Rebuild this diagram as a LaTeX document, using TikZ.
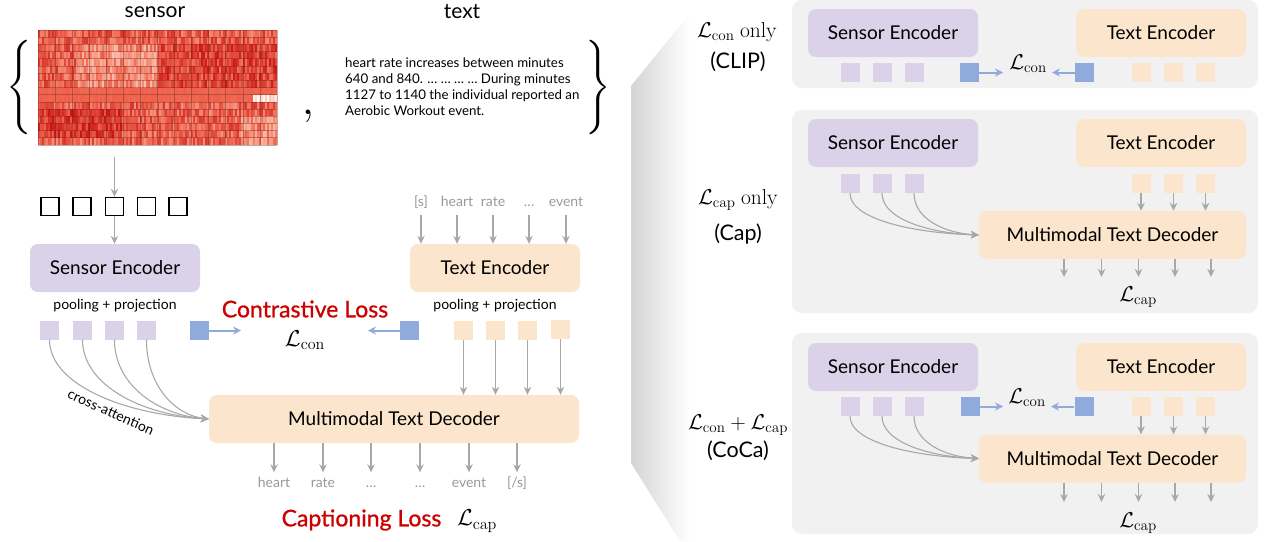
\documentclass[tikz,border=0pt]{standalone}
\usepackage{fix-cm}
\usepackage{amsmath}
\usepackage[no-math]{fontspec}
\setmainfont{Lato}
\newfontfamily\mediumfont{Lato}[FakeBold=0.9]
\usetikzlibrary{arrows.meta}

\definecolor{lav}{HTML}{D9D2E9}
\definecolor{peach}{HTML}{FCE5CD}
\definecolor{pblue}{HTML}{8FAADC}
\definecolor{panel}{HTML}{F1F1F1}
\definecolor{lossred}{HTML}{CC0000}
\definecolor{arrgray}{HTML}{A8A8A8}
\definecolor{tokgray}{HTML}{999999}
\definecolor{hmdark}{RGB}{200,22,22}
\definecolor{hmmid}{RGB}{240,100,78}
\definecolor{hmlight}{RGB}{252,192,172}
\definecolor{hmline}{RGB}{110,40,30}

\tikzset{
  encbox/.style={rounded corners=8pt, minimum width=170pt, minimum height=48pt,
    inner sep=0pt, font=\fontsize{19}{22}\selectfont},
  sencbox/.style={encbox, fill=lav},
  tencbox/.style={encbox, fill=peach},
  decbox/.style={rounded corners=8pt, minimum height=48pt, inner sep=0pt,
    fill=peach, font=\fontsize{19}{22}\selectfont},
  lavsq/.style={fill=lav, minimum size=19pt, inner sep=0pt},
  peachsq/.style={fill=peach, minimum size=19pt, inner sep=0pt},
  bluesq/.style={fill=pblue, minimum size=19pt, inner sep=0pt},
  emptysq/.style={draw=black, line width=1.4pt, minimum size=18pt, inner sep=0pt},
  panelbox/.style={fill=panel, rounded corners=10pt, minimum width=466pt, inner sep=0pt},
  garrow/.style={draw=arrgray, line width=1.3pt, -{Stealth[length=8pt,width=7.5pt]}},
  xattn/.style={draw=arrgray, line width=1.1pt, -{Stealth[length=8pt,width=7.5pt]}},
  barrow/.style={draw=pblue, line width=2pt, -{Stealth[length=8pt,width=8pt]}},
  tok/.style={inner sep=0pt, text height=10pt, text depth=3pt, text=tokgray,
    font=\fontsize{14}{16}\selectfont},
  smalltxt/.style={inner sep=0pt, font=\fontsize{14}{16}\selectfont},
  header/.style={inner sep=0pt, font=\fontsize{21}{24}\selectfont},
  mathlbl/.style={inner sep=0pt, font=\fontsize{23}{27}\selectfont},
  losstxt/.style={inner sep=0pt, text=lossred, font=\fontsize{23}{27}\selectfont\mediumfont},
  sidetxt/.style={inner sep=0pt, font=\fontsize{21.5}{25}\selectfont},
  hmgrid/.style={draw=hmline, draw opacity=0.4, line width=0.7pt}
}

\begin{document}
\begin{tikzpicture}[x=1pt, y=-1pt]
\useasboundingbox (0,0) rectangle (1265,541);

% ---------------- left: input pair ----------------
\node[header] (hsensor) at (155,12) {sensor};
\node[header] (htext) at (462,12) {text};

% heat map of the sensor channels (light -> mid -> dark red scale)
\pgfmathsetseed{7}
\foreach \rw in {0,...,15}{
  \foreach \k in {0,...,119}{
    \pgfmathsetmacro\xx{38+\k*1.99167}
    \pgfmathsetmacro\base{(\rw<2) ? 55 : ((\rw<8) ? ((\xx<75) ? 55 : ((\xx<157) ? 28 : 70)) : ((\rw<10) ? 50 : ((\rw>=11 && \rw<=14 && \xx<120) ? 78 : ((\rw>=12 && \xx>240) ? 28 : 52))))}
    \pgfmathsetmacro\amp{(\rw==8 || \rw==9) ? 3 : 28}
    \pgfmathsetmacro\tv{max(0,min(100,\base+(rnd-0.5)*2*\amp))}
    \pgfmathtruncatemacro\isw{(\rw==9 && \xx>252) ? 1 : 0}
    \pgfmathtruncatemacro\islow{(\tv<50) ? 1 : 0}
    \ifnum\isw=1
      \pgfmathsetmacro\wv{rnd*100}
      \fill[hmlight!\wv!white] (\xx,{30+\rw*7.1875}) rectangle ++(2.3,7.3);
    \else
      \ifnum\islow=1
        \pgfmathsetmacro\mv{2*\tv}
        \fill[hmmid!\mv!hmlight] (\xx,{30+\rw*7.1875}) rectangle ++(2.3,7.3);
      \else
        \pgfmathsetmacro\mv{2*\tv-100}
        \fill[hmdark!\mv!hmmid] (\xx,{30+\rw*7.1875}) rectangle ++(2.3,7.3);
      \fi
    \fi
  }
}
\foreach \c in {0,...,14} \draw[hmgrid] ({38+\c*17.0714},30) -- ({38+\c*17.0714},145);
\foreach \rr in {0,...,16} \draw[hmgrid] (38,{30+\rr*7.1875}) -- (277,{30+\rr*7.1875});
\node[inner sep=0pt, minimum width=239pt, minimum height=115pt] (hm) at (157.5,87.5) {};

\node[scale=3.15, inner sep=0pt] (lbrace) at (19,87) {$\Biggl\{$};
\node[scale=4.2, inner sep=0pt] (comma) at (308,116) {$,$};
\node[scale=3.15, inner sep=0pt] (rbrace) at (598,87) {$\Biggr\}$};

\node[anchor=west, align=left, inner sep=0pt, font=\fontsize{13.3}{16}\selectfont] (para) at (345,87)
  {heart rate increases between minutes\\640 and 840. … … … … During minutes\\1127 to 1140 the individual reported an\\Aerobic Workout event.};

% ---------------- left: patches and encoders ----------------
\coordinate (hmout) at (114.5,157);
\node[emptysq] (sq1) at (50,206.5) {};
\node[emptysq] (sq2) at (82,206.5) {};
\node[emptysq] (sq3) at (114.5,206.5) {};
\node[emptysq] (sq4) at (146.5,206.5) {};
\node[emptysq] (sq5) at (178,206.5) {};
\draw[garrow] (hmout) -- (sq3.north);

\node[sencbox] (senc) at (115,268) {Sensor Encoder};
\draw[garrow] (sq3.south) -- (sq3.south |- senc.north);

\node[tencbox] (tenc) at (495,268) {Text Encoder};
\node[tok] (tk1) at (421,203) {[s]};
\node[tok] (tk2) at (457,203) {heart};
\node[tok] (tk3) at (493,203) {rate};
\node[tok] (tk4) at (529,203) {…};
\node[tok] (tk5) at (566,203) {event};
\foreach \i in {1,...,5} \draw[garrow, shorten <=5pt] (tk\i.south) -- (tk\i.south |- tenc.north);

\node[smalltxt] (pp1) at (115,306) {pooling + projection};
\node[smalltxt] (pp2) at (495,306) {pooling + projection};

\node[lavsq] (p1) at (49.5,330) {};
\node[lavsq] (p2) at (82.5,330) {};
\node[lavsq] (p3) at (114.5,330) {};
\node[lavsq] (p4) at (146.5,330) {};
\node[bluesq] (bl) at (199.5,330.5) {};
\node[bluesq] (br) at (409.5,330.5) {};
\node[peachsq] (q1) at (463.5,330.5) {};
\node[peachsq] (q2) at (495.5,330.5) {};
\node[peachsq] (q3) at (527.5,330.5) {};
\node[peachsq] (q4) at (560.5,329.5) {};

\node[losstxt] (closs) at (305,309) {Contrastive Loss};
\node[mathlbl] (lcon) at (305,340) {$\mathcal{L}_{\mathrm{con}}$};
\coordinate (bltip) at (241,330.5);
\coordinate (brtip) at (368,330.5);
\draw[barrow] (bl.east) -- (bltip);
\draw[barrow] (br.west) -- (brtip);

% ---------------- left: decoder ----------------
\node[decbox, minimum width=370pt] (dec) at (394,419) {Multimodal Text Decoder};
\foreach \i in {1,...,4} \draw[garrow] (q\i.south) -- (q\i.south |- dec.north);
\foreach \i/\c in {1/82,2/66,3/50,4/34}
  \draw[xattn] (p\i.south) .. controls +(0,46) and +(-\c,-4) .. (dec.west);
\node[smalltxt, rotate=-24] (xatt) at (111,412) {cross-attention};

\node[tok] (o1) at (274,484) {heart};
\node[tok] (o2) at (323,484) {rate};
\node[tok] (o3) at (371,484) {…};
\node[tok] (o4) at (420,484) {…};
\node[tok] (o5) at (469,484) {event};
\node[tok] (o6) at (517,484) {[/s]};
\foreach \i in {1,...,6} \draw[garrow, shorten >=5pt] (o\i.north |- dec.south) -- (o\i.north);

\node[losstxt] (caploss) at (361.5,520) {Captioning Loss};
\node[mathlbl] (lcap) at (477,521) {$\mathcal{L}_{\mathrm{cap}}$};

% ---------------- right: fading fold ----------------
\shade[left color=black!17, right color=white]
  (631,86) -- (690,13) -- (690,541) -- (680,541) -- (631,463) -- cycle;

% ---------------- right: CLIP ----------------
\node[panelbox, minimum height=88pt] (pan1) at (1025,44) {};
\node[sidetxt] (lab1a) at (737,32) {$\mathcal{L}_{\mathrm{con}}\ \mathrm{only}$};
\node[sidetxt] (lab1b) at (738,62) {(CLIP)};
\node[sencbox] (senc1) at (893,33) {Sensor Encoder};
\node[tencbox] (tenc1) at (1161,33) {Text Encoder};
\node[lavsq] (a1) at (850,72.5) {};
\node[lavsq] (a2) at (882,72.5) {};
\node[lavsq] (a3) at (914,72.5) {};
\node[bluesq] (ab1) at (969.5,72.5) {};
\node[bluesq] (ab2) at (1084.5,72.5) {};
\node[peachsq] (at1) at (1141.5,72.5) {};
\node[peachsq] (at2) at (1173.5,72.5) {};
\node[peachsq] (at3) at (1205.5,72.5) {};
\node[sidetxt] (lcon1) at (1028,64) {$\mathcal{L}_{\mathrm{con}}$};
\coordinate (ab1tip) at (1003,72.5);
\coordinate (ab2tip) at (1052,72.5);
\draw[barrow] (ab1.east) -- (ab1tip);
\draw[barrow] (ab2.west) -- (ab2tip);

% ---------------- right: captioning only ----------------
\node[panelbox, minimum height=203pt] (pan2) at (1025,211.5) {};
\node[sidetxt] (lab2a) at (738,200) {$\mathcal{L}_{\mathrm{cap}}\ \mathrm{only}$};
\node[sidetxt] (lab2b) at (738,234) {(Cap)};
\node[sencbox] (senc2) at (893,143) {Sensor Encoder};
\node[tencbox] (tenc2) at (1161,143) {Text Encoder};
\node[lavsq] (b1) at (850,183.5) {};
\node[lavsq] (b2) at (882,183.5) {};
\node[lavsq] (b3) at (914,183.5) {};
\node[peachsq] (bt1) at (1141,183.5) {};
\node[peachsq] (bt2) at (1173.5,183.5) {};
\node[peachsq] (bt3) at (1205.5,183.5) {};
\node[decbox, minimum width=267pt] (dec2) at (1112.5,235) {Multimodal Text Decoder};
\foreach \i in {1,2,3} \draw[garrow] (bt\i.south) -- (bt\i.south |- dec2.north);
\foreach \i/\c in {1/66,2/50,3/34}
  \draw[xattn] (b\i.south) .. controls +(0,26) and +(-\c,-2) .. (dec2.west);
\foreach \x [count=\i] in {1064,1101.5,1138.5,1175,1211} \coordinate (bo\i) at (\x,277);
\foreach \i in {1,...,5} \draw[garrow] (bo\i |- dec2.south) -- (bo\i);
\node[sidetxt] (lcap2) at (1138,297) {$\mathcal{L}_{\mathrm{cap}}$};

% ---------------- right: CoCa ----------------
\node[panelbox, minimum height=201pt] (pan3) at (1025,433.5) {};
\node[sidetxt] (lab3a) at (738,425) {$\mathcal{L}_{\mathrm{con}}+\mathcal{L}_{\mathrm{cap}}$};
\node[sidetxt] (lab3b) at (738,451) {(CoCa)};
\node[sencbox] (senc3) at (893,367) {Sensor Encoder};
\node[tencbox] (tenc3) at (1161,367) {Text Encoder};
\node[lavsq] (c1) at (850,406.5) {};
\node[lavsq] (c2) at (882,406.5) {};
\node[lavsq] (c3) at (914,406.5) {};
\node[bluesq] (cb1) at (970,406.5) {};
\node[bluesq] (cb2) at (1084,406.5) {};
\node[peachsq] (ct1) at (1141,406.5) {};
\node[peachsq] (ct2) at (1173.5,406.5) {};
\node[peachsq] (ct3) at (1205.5,406.5) {};
\node[sidetxt] (lcon3) at (1027,398) {$\mathcal{L}_{\mathrm{con}}$};
\coordinate (cb1tip) at (1003,406.5);
\coordinate (cb2tip) at (1051,406.5);
\draw[barrow] (cb1.east) -- (cb1tip);
\draw[barrow] (cb2.west) -- (cb2tip);
\node[decbox, minimum width=267pt] (dec3) at (1112.5,458.5) {Multimodal Text Decoder};
\foreach \i in {1,2,3} \draw[garrow] (ct\i.south) -- (ct\i.south |- dec3.north);
\foreach \i/\c in {1/66,2/50,3/34}
  \draw[xattn] (c\i.south) .. controls +(0,26) and +(-\c,-2) .. (dec3.west);
\foreach \x [count=\i] in {1064,1101.5,1138.5,1175,1211} \coordinate (co\i) at (\x,502);
\foreach \i in {1,...,5} \draw[garrow] (co\i |- dec3.south) -- (co\i);
\node[sidetxt] (lcap3) at (1138,523) {$\mathcal{L}_{\mathrm{cap}}$};
\end{tikzpicture}
\end{document}
